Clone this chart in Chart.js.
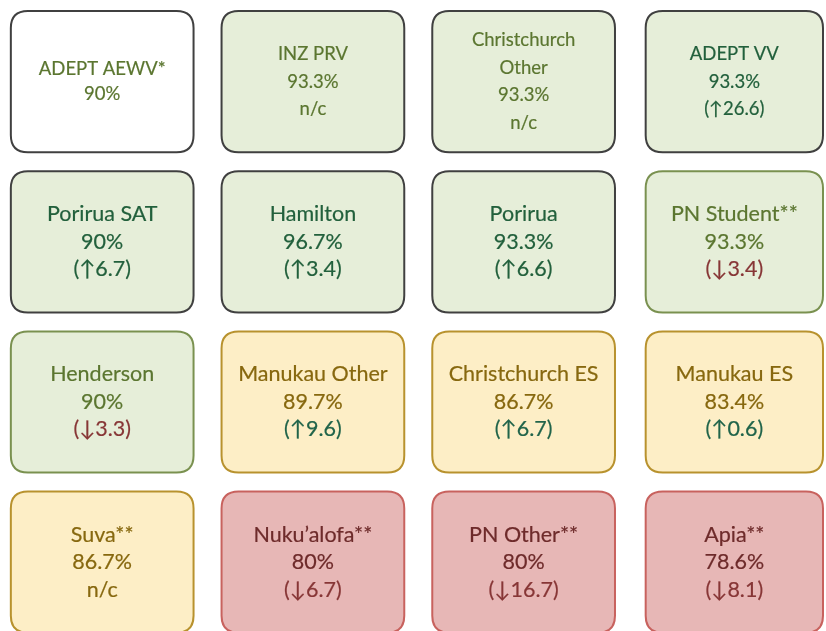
<!DOCTYPE html>
<html>
<head>
<meta charset="utf-8">
<script src="https://cdn.jsdelivr.net/npm/chart.js@4/dist/chart.umd.min.js"></script>
<style>
  html, body { margin: 0; padding: 0; background: #fff; }
  #wrap { width: 826px; height: 631px; position: relative; }
</style>
</head>
<body>
<div id="wrap"><canvas id="tiles"></canvas></div>
<script>
// Tile grid, read left to right, top to bottom
const sites = [
  'ADEPT AEWV*', 'INZ PRV', 'Christchurch\nOther', 'ADEPT VV',
  'Porirua SAT', 'Hamilton', 'Porirua', 'PN Student**',
  'Henderson', 'Manukau Other', 'Christchurch ES', 'Manukau ES',
  'Suva**', 'Nuku\u2019alofa**', 'PN Other**', 'Apia**'
];
const rates = [90, 93.3, 93.3, 93.3, 90, 96.7, 93.3, 93.3, 90, 89.7, 86.7, 83.4, 86.7, 80, 80, 78.6];
// change in points vs previous period; 'n/c' = no change, null = not shown
const changes = [null, 'n/c', 'n/c', 26.6, 6.7, 3.4, 6.6, -3.4, -3.3, 9.6, 6.7, 0.6, 'n/c', -6.7, -16.7, -8.1];
// performance band of each tile
const bands = ['none', 'high', 'high', 'high', 'high', 'high', 'high', 'high',
               'high', 'mid', 'mid', 'mid', 'mid', 'low', 'low', 'low'];

const COLS = 4;

// styling
const fills = { none: '#ffffff', high: '#e6eed9', mid: '#fdeec6', low: '#e7b7b6' };
const edges = { none: '#404040', high: '#404040', mid: '#b8922e', low: '#c8625e' };
const inks = { none: '#5b7630', high: '#5b7630', mid: '#87680f', low: '#6e2b2b' };
const darkGreenTitles = [3, 4, 5, 6];   // tiles written in the deeper green
const greenEdged = [7, 8];              // green tiles with a green outline
const UP = '#21644a', DOWN = '#873636';

function changeText(c) {
  if (c === null) return null;
  if (c === 'n/c') return 'n/c';
  return c >= 0 ? '(\u2191' + c + ')' : '(\u2193' + Math.abs(c) + ')';
}

function roundRect(ctx, x, y, w, h, r) {
  ctx.beginPath();
  ctx.moveTo(x + r, y);
  ctx.lineTo(x + w - r, y);
  ctx.quadraticCurveTo(x + w, y, x + w, y + r);
  ctx.lineTo(x + w, y + h - r);
  ctx.quadraticCurveTo(x + w, y + h, x + w - r, y + h);
  ctx.lineTo(x + r, y + h);
  ctx.quadraticCurveTo(x, y + h, x, y + h - r);
  ctx.lineTo(x, y + r);
  ctx.quadraticCurveTo(x, y, x + r, y);
  ctx.closePath();
}

const tilePlugin = {
  id: 'tiles',
  afterDatasetsDraw(chart) {
    const ctx = chart.ctx;
    const area = chart.chartArea;
    const meta = chart.getDatasetMeta(0);
    const xs = chart.scales.x, ys = chart.scales.y;
    const stepX = xs.getPixelForValue(2) - xs.getPixelForValue(1);
    const stepY = ys.getPixelForValue(2) - ys.getPixelForValue(1);
    const fullW = stepX - 28, fullH = Math.abs(stepY) - 19;
    ctx.save();
    meta.data.forEach((pt, i) => {
      const cx = pt.x, cy = pt.y;
      const w = Math.min(fullW, 2 * (area.right - cx) - 6);
      const h = fullH;
      const band = bands[i];
      roundRect(ctx, cx - w / 2, cy - h / 2, w, h, 17);
      ctx.fillStyle = fills[band];
      ctx.fill();
      ctx.lineWidth = 2;
      ctx.strokeStyle = greenEdged.includes(i) ? '#7a9150' : edges[band];
      ctx.stroke();

      const ink = darkGreenTitles.includes(i) ? '#22603c' : inks[band];
      const lines = sites[i].split('\n').map(t => ({ t, c: ink }));
      lines.push({ t: rates[i] + '%', c: ink });
      const ch = changes[i];
      const ct = changeText(ch);
      if (ct) {
        let col = ink;
        if (typeof ch === 'number') col = ch >= 0 ? (darkGreenTitles.includes(i) ? ink : UP) : DOWN;
        lines.push({ t: ct, c: col });
      }
      const lh = lines.length === 2 ? 25 : 27.5;
      const top = cy - (lines.length - 1) * lh / 2;
      // first row of the source was captured slightly smaller
      const size = i < COLS ? 18.5 : 21.5;
      ctx.font = size + 'px Lato, "DejaVu Sans", sans-serif';
      ctx.textAlign = 'center';
      ctx.textBaseline = 'middle';
      ctx.lineWidth = 0.2;
      lines.forEach((l, k) => {
        ctx.fillStyle = l.c;
        ctx.strokeStyle = l.c;
        ctx.fillText(l.t, cx, top + k * lh);
        ctx.strokeText(l.t, cx, top + k * lh);
      });
    });
    ctx.restore();
  }
};

const points = sites.map((s, i) => ({ x: (i % COLS) + 1, y: Math.floor(i / COLS) + 1 }));

new Chart(document.getElementById('tiles').getContext('2d'), {
  type: 'scatter',
  data: { datasets: [{ data: points, pointRadius: 0, pointHoverRadius: 0 }] },
  options: {
    responsive: true,
    maintainAspectRatio: false,
    animation: false,
    layout: { padding: 0 },
    plugins: { legend: { display: false }, tooltip: { enabled: false } },
    scales: {
      x: { type: 'linear', min: 0.515, max: 4.435, display: false },
      y: { type: 'linear', min: 0.49, max: 4.43, reverse: true, display: false }
    }
  },
  plugins: [tilePlugin]
});
</script>
</body>
</html>
